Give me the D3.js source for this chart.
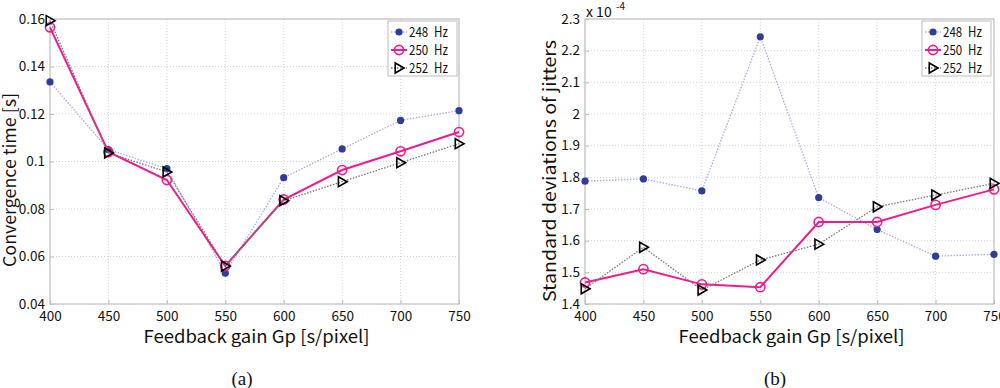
<!DOCTYPE html>
<meta charset="utf-8">
<head>
<script src="https://d3js.org/d3.v7.min.js"></script>
<style>
  body { margin: 0; background: #fff; }
  svg text { font-family: "Noto Sans CJK JP", "Noto Sans", sans-serif; fill: #111; }
  .caption { font-family: "Liberation Serif", "Times New Roman", serif !important; }
</style>
</head>
<body>
<div id="chart"></div>
<script>

// x values shared by both panels
var gains = [400, 450, 500, 550, 600, 650, 700, 750];

// (a) convergence time [s]
var conv248 = [0.1335, 0.105, 0.097, 0.053, 0.0932, 0.1053, 0.1173, 0.1214];
var conv250 = [0.1565, 0.104, 0.0922, 0.056, 0.084, 0.0964, 0.1043, 0.1124];
var conv252 = [0.1593, 0.1036, 0.0956, 0.056, 0.0835, 0.0915, 0.0995, 0.1075];

// (b) standard deviations of jitters (x 10^-4)
var jit248 = [1.788, 1.795, 1.757, 2.244, 1.736, 1.635, 1.551, 1.557];
var jit250 = [1.468, 1.51, 1.462, 1.453, 1.659, 1.659, 1.713, 1.762];
var jit252 = [1.448, 1.579, 1.444, 1.539, 1.589, 1.707, 1.744, 1.781];

var seriesNames = ["248 Hz", "250 Hz", "252 Hz"];
var convTicks = [0.04, 0.06, 0.08, 0.1, 0.12, 0.14, 0.16];
var jitTicks = [1.4, 1.5, 1.6, 1.7, 1.8, 1.9, 2, 2.1, 2.2, 2.3];

var svg = d3.select("#chart").append("svg")
    .attr("width", 1000)
    .attr("height", 388);

var styles = [
  {line: "#a9addf", width: 1.3, dash: "1.5,1.5", marker: "dot"},
  {line: "#ee1c8c", width: 2, dash: null, marker: "circle"},
  {line: "#777", width: 1.3, dash: "1.5,1.5", marker: "tri"}
];

function drawMarker(g, type, cx, cy) {
  if (type == "dot") {
    g.append("circle").attr("cx", cx).attr("cy", cy).attr("r", 3.6)
      .style("fill", "#2f3c98");
  } else if (type == "circle") {
    g.append("circle").attr("cx", cx).attr("cy", cy).attr("r", 4.6)
      .style("fill", "none").style("stroke", "#ee1c8c").style("stroke-width", 1.6);
  } else {
    var s = 5;
    g.append("path")
      .attr("d", "M" + (cx - s * 0.75) + "," + (cy - s) + "L" + (cx + s) + "," + cy +
                 "L" + (cx - s * 0.75) + "," + (cy + s) + "Z")
      .style("fill", "none").style("stroke", "#000").style("stroke-width", 1.6);
  }
}

function drawPanel(cfg) {
  var x = d3.scaleLinear().domain([400, 750]).range([cfg.left, cfg.right]);
  var y = d3.scaleLinear().domain(cfg.yDomain).range([cfg.bottom, cfg.top]);
  var g = svg.append("g");

  // grid
  g.selectAll(".vg").data(gains.slice(1, -1)).enter().append("line")
    .attr("x1", function(d) { return x(d) }).attr("x2", function(d) { return x(d) })
    .attr("y1", cfg.top).attr("y2", cfg.bottom)
    .style("stroke", "#d4d4d4").style("stroke-dasharray", "1,2");
  g.selectAll(".hg").data(cfg.ticks.slice(1, -1)).enter().append("line")
    .attr("y1", function(d) { return y(d) }).attr("y2", function(d) { return y(d) })
    .attr("x1", cfg.left).attr("x2", cfg.right)
    .style("stroke", "#d4d4d4").style("stroke-dasharray", "1,2");

  // frame
  g.append("rect").attr("x", cfg.left).attr("y", cfg.top)
    .attr("width", cfg.right - cfg.left).attr("height", cfg.bottom - cfg.top)
    .style("fill", "none").style("stroke", "#bcbcbc").style("stroke-width", 1.2);

  // axes (inward ticks, no domain line)
  var xa = g.append("g").attr("transform", "translate(0," + cfg.bottom + ")")
    .call(d3.axisBottom(x).tickValues(gains).tickSizeInner(-4).tickSizeOuter(0).tickPadding(7));
  var ya = g.append("g").attr("transform", "translate(" + cfg.left + ",0)")
    .call(d3.axisLeft(y).tickValues(cfg.ticks).tickFormat(cfg.fmt)
      .tickSizeInner(-4).tickSizeOuter(0).tickPadding(5));
  [xa, ya].forEach(function(a) {
    a.select(".domain").remove();
    a.selectAll("line").style("stroke", "#bcbcbc");
    a.selectAll("text").style("font-size", "13.5px").style("fill", "#111")
      .style("font-family", '"Noto Sans CJK JP", sans-serif');
  });

  // series
  cfg.series.forEach(function(vals, i) {
    var st = styles[i];
    var pts = gains.map(function(d, j) { return [x(d), y(vals[j])] });
    g.append("path").datum(pts)
      .attr("d", d3.line())
      .style("fill", "none").style("stroke", st.line)
      .style("stroke-width", st.width)
      .style("stroke-dasharray", st.dash);
    pts.forEach(function(p) { drawMarker(g, st.marker, p[0], p[1]) });
  });

  // legend
  var lg = g.append("g");
  lg.append("rect").attr("x", cfg.legX).attr("y", 21).attr("width", 69).attr("height", 55)
    .style("fill", "#fff").style("stroke", "#bcbcbc");
  seriesNames.forEach(function(n, i) {
    var yy = 32 + i * 18;
    var st = styles[i];
    lg.append("line").attr("x1", cfg.legX + 3).attr("x2", cfg.legX + 19)
      .attr("y1", yy).attr("y2", yy)
      .style("stroke", st.line).style("stroke-width", st.width)
      .style("stroke-dasharray", st.dash);
    drawMarker(lg, st.marker, cfg.legX + 11, yy);
    lg.append("text").attr("x", cfg.legX + 21).attr("y", yy + 5)
      .attr("textLength", 39).attr("lengthAdjust", "spacingAndGlyphs")
      .style("font-size", "14px").style("word-spacing", "4px").text(n);
  });

  // x label
  g.append("text").attr("x", (cfg.left + cfg.right) / 2 + 2).attr("y", 343)
    .attr("text-anchor", "middle").attr("textLength", 226).attr("lengthAdjust", "spacingAndGlyphs")
    .style("font-size", "17.5px").text("Feedback gain Gp [s/pixel]");

  // y label
  g.append("text")
    .attr("transform", "translate(" + cfg.yLabX + "," + cfg.yLabY + ") rotate(-90)")
    .attr("text-anchor", "middle").attr("textLength", cfg.yLabLen).attr("lengthAdjust", "spacingAndGlyphs")
    .style("font-size", "17px").text(cfg.yLabel);

  // caption
  g.append("text").attr("class", "caption")
    .attr("x", cfg.capX).attr("y", 385).attr("text-anchor", "middle")
    .style("font-size", "19px").text(cfg.caption);
  return g;
}

drawPanel({
  left: 50, right: 459, top: 19, bottom: 304,
  yDomain: [0.04, 0.16], ticks: convTicks,
  fmt: function(d) { return d == 0.1 ? "0.1" : d3.format(".2f")(d) },
  series: [conv248, conv250, conv252],
  legX: 388,
  yLabel: "Convergence time [s]", yLabX: 16, yLabY: 180, yLabLen: 174,
  caption: "(a)", capX: 242
});

var gb = drawPanel({
  left: 585, right: 994, top: 19, bottom: 304,
  yDomain: [1.4, 2.3], ticks: jitTicks,
  fmt: function(d) { return d == 2 ? "2" : d3.format(".1f")(d) },
  series: [jit248, jit250, jit252],
  legX: 922,
  yLabel: "Standard deviations of jitters", yLabX: 556, yLabY: 171, yLabLen: 262,
  caption: "(b)", capX: 775
});

// exponent label
gb.append("text").attr("x", 586).attr("y", 17).style("font-size", "14px").text("x 10");
gb.append("text").attr("x", 616).attr("y", 10).style("font-size", "10px").text("-4");

</script>
</body>
